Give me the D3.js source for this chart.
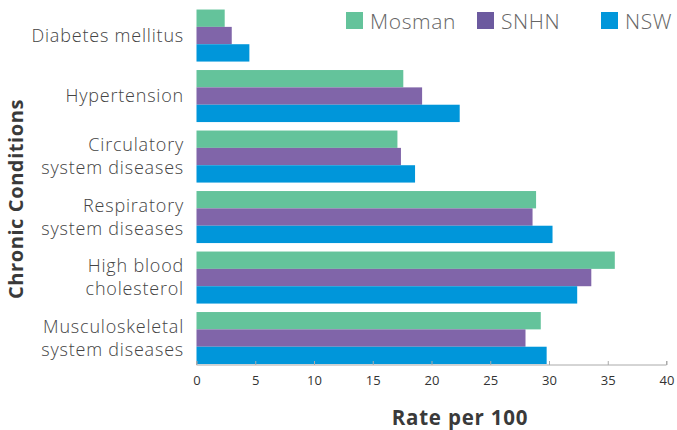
<!DOCTYPE html>
<html>
<head>
<meta charset="utf-8">
<script src="https://cdn.jsdelivr.net/npm/d3@7"></script>
<style>
  body { margin: 0; background: #fff; }
  svg { font-family: "Open Sans", sans-serif; }
</style>
</head>
<body>
<div id="chart"></div>
<script>
// chart data
const categories = [
  ["Diabetes mellitus"],
  ["Hypertension"],
  ["Circulatory", "system diseases"],
  ["Respiratory", "system diseases"],
  ["High blood", "cholesterol"],
  ["Musculoskeletal", "system diseases"]
];
const seriesNames = ["Mosman", "SNHN", "NSW"];
const mosman = [2.4, 17.6, 17.1, 28.9, 35.6, 29.3];
const snhn = [3.0, 19.2, 17.4, 28.6, 33.6, 28.0];
const nsw = [4.5, 22.4, 18.6, 30.3, 32.4, 29.8];
const xTicks = [0, 5, 10, 15, 20, 25, 30, 35, 40];

const barColors = ["#64c39b", "#8065a9", "#0096da"];
const legendColors = ["#64c39b", "#6c5a9f", "#0096da"];

const W = 677, H = 430;
const x0 = 196.5, x1 = 666.5;

const svg = d3.select("#chart").append("svg")
  .attr("width", W).attr("height", H);

const xScale = d3.scaleLinear().domain([0, 40]).range([x0, x1]);

const keys = categories.map(c => c.join(" "));
const yScale = d3.scaleBand()
  .domain(keys)
  .range([5.3, 368.3])
  .paddingInner(0.14)
  .paddingOuter(0.07);

const ySub = d3.scaleBand()
  .domain(seriesNames)
  .range([0, yScale.bandwidth()]);

const rows = keys.map((k, i) => ({ key: k, lines: categories[i], values: [mosman[i], snhn[i], nsw[i]] }));

// bars
const groups = svg.selectAll(".grp")
  .data(rows)
  .enter().append("g")
  .attr("class", "grp")
  .attr("transform", d => `translate(0,${yScale(d.key)})`);

groups.selectAll("rect")
  .data(d => d.values.map((v, j) => ({ name: seriesNames[j], v: v, j: j })))
  .enter().append("rect")
  .attr("x", xScale(0))
  .attr("y", d => ySub(d.name))
  .attr("width", d => xScale(d.v) - xScale(0))
  .attr("height", ySub.bandwidth())
  .attr("fill", d => barColors[d.j]);

// x axis
const axisY = 365;
const xAxis = svg.append("g")
  .attr("transform", `translate(0,${axisY})`)
  .call(d3.axisBottom(xScale).tickValues(xTicks).tickSize(-4).tickPadding(11));
xAxis.select(".domain").attr("stroke", "#aaa").attr("d", `M${x0},-4V0H${x1}V-4`);
xAxis.selectAll(".tick line").attr("stroke", "#aaa");
xAxis.selectAll(".tick text")
  .attr("fill", "#333")
  .style("font-family", "'Open Sans'")
  .style("font-size", "13px")
  .attr("dy", "0.71em")
  .attr("y", 11);

// category labels
const labels = svg.selectAll(".cat")
  .data(rows)
  .enter().append("text")
  .attr("class", "cat")
  .attr("text-anchor", "end")
  .attr("fill", "#444")
  .style("font-size", "18px")
  .style("letter-spacing", "0.8px")
  .style("font-weight", 300);

labels.each(function(d) {
  const cy = yScale(d.key) + yScale.bandwidth() / 2;
  const n = d.lines.length;
  d.lines.forEach((line, i) => {
    d3.select(this).append("tspan")
      .attr("x", 184)
      .attr("y", cy + (i - (n - 1) / 2) * 23)
      .attr("dy", "0.35em")
      .text(line);
  });
});

// axis titles
svg.append("text")
  .attr("x", 460)
  .attr("y", 425)
  .attr("text-anchor", "middle")
  .attr("fill", "#3a3a3a")
  .style("font-size", "20.5px")
  .style("letter-spacing", "0.8px")
  .style("font-weight", 700)
  .text("Rate per 100");

svg.append("text")
  .attr("transform", "translate(23,199) rotate(-90)")
  .attr("text-anchor", "middle")
  .attr("fill", "#3a3a3a")
  .style("font-size", "20px")
  .style("letter-spacing", "0.6px")
  .style("font-weight", 700)
  .text("Chronic Conditions");

// legend
const legendX = [346, 477, 601];
const legend = svg.selectAll(".leg")
  .data(seriesNames)
  .enter().append("g")
  .attr("class", "leg")
  .attr("transform", (d, i) => `translate(${legendX[i]},12)`);

legend.append("rect")
  .attr("width", 17).attr("height", 17)
  .attr("fill", (d, i) => legendColors[i]);

legend.append("text")
  .attr("x", 24)
  .attr("y", 17)
  .attr("fill", "#666")
  .style("font-size", "21px")
  .style("letter-spacing", "0.6px")
  .style("font-weight", 300)
  .text(d => d);
</script>
</body>
</html>
